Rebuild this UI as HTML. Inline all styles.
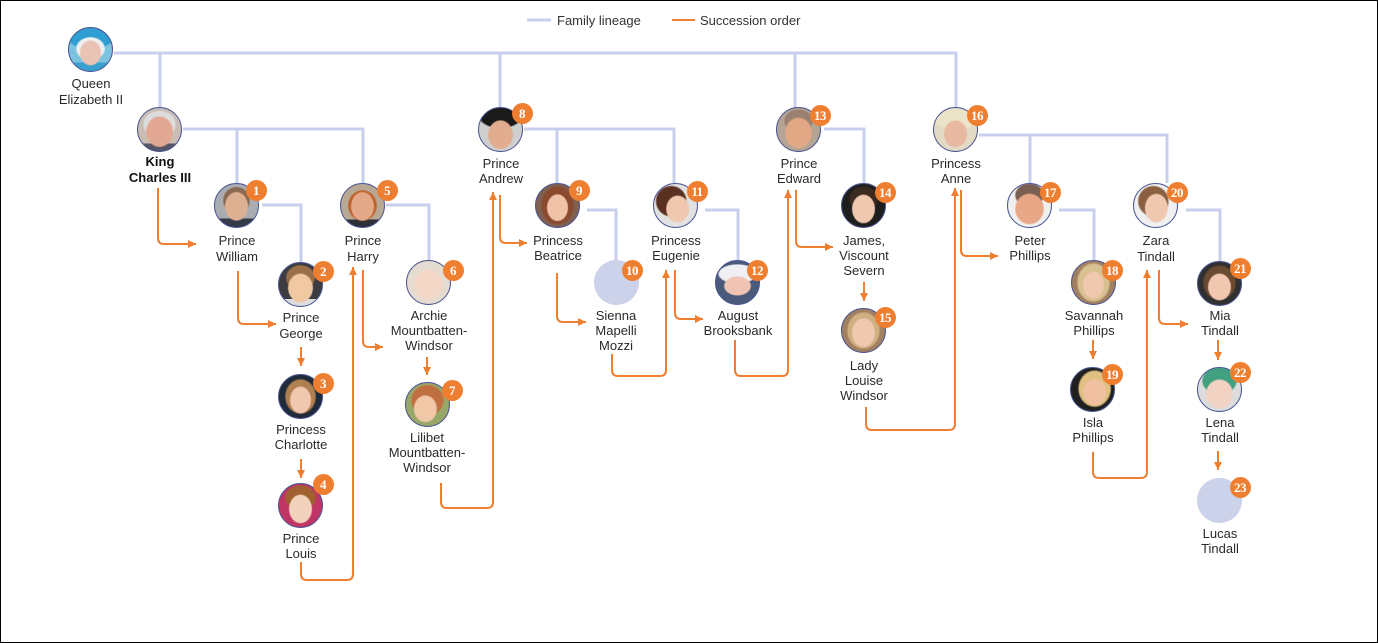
<!DOCTYPE html>
<html><head><meta charset="utf-8"><style>
html,body{margin:0;padding:0;background:#fff;}
#w{position:relative;width:1378px;height:643px;overflow:hidden;background:#fff;font-family:"Liberation Sans",Arial,sans-serif;}
#frame{position:absolute;left:0;top:0;width:1378px;height:643px;border:1px solid #000;box-sizing:border-box;}
svg{position:absolute;left:0;top:0;}
.f{position:absolute;width:45px;height:45px;border-radius:50%;border:1px solid #4b5593;box-sizing:border-box;}
.ph{position:absolute;width:45px;height:45px;border-radius:50%;background:#cbd2ea;}
.b{position:absolute;width:21px;height:21px;margin:-0.5px 0 0 -0.5px;border-radius:50%;background:#ef7f30;color:#fff;font:bold 13px "Liberation Serif",serif;line-height:21px;text-align:center;letter-spacing:-0.5px;}
text{font-family:"Liberation Sans",Arial,sans-serif;font-size:13px;fill:#2a2a2a;text-anchor:middle;}
</style></head><body><div id="w">
<svg width="1378" height="643" viewBox="0 0 1378 643">
<defs><marker id="a" markerUnits="userSpaceOnUse" markerWidth="9" markerHeight="9" refX="8" refY="4.5" orient="auto"><path d="M0,0.5 L8,4.5 L0,8.5 z" fill="#ef7f30"/></marker></defs>
<line x1="527" y1="20" x2="551" y2="20" stroke="#c8cfec" stroke-width="3"/>
<text x="557" y="25" style="text-anchor:start;fill:#333">Family lineage</text>
<line x1="672" y1="20" x2="695" y2="20" stroke="#ef7f30" stroke-width="2"/>
<text x="700" y="25" style="text-anchor:start;fill:#333">Succession order</text>
<g fill="none" stroke="#c8cfec" stroke-width="3">
<path d="M114,53 H956 V108"/>
<path d="M160,53 V107"/><path d="M500,53 V108"/><path d="M795,53 V108"/>
<path d="M183,129 H363 V183"/><path d="M237,129 V183"/>
<path d="M262,205 H301 V262"/>
<path d="M386,205 H429 V260"/>
<path d="M524,129 H674 V183"/><path d="M557,129 V183"/>
<path d="M587,210 H616 V260"/>
<path d="M705,210 H738 V260"/>
<path d="M824,129 H864 V183"/>
<path d="M979,135 H1167 V183"/><path d="M1030,135 V183"/>
<path d="M1059,210 H1094 V260"/>
<path d="M1186,210 H1220 V262"/>
</g>
<g fill="none" stroke="#ef7f30" stroke-width="2" marker-end="url(#a)">
<path d="M158,188 V238 Q158,244 164,244 H196"/>
<path d="M238,271 V318 Q238,324 244,324 H276"/>
<path d="M301,347 V366"/>
<path d="M301,459 V478"/>
<path d="M301,562 V574 Q301,580 307,580 H347 Q353,580 353,574 V267"/>
<path d="M363,270 V341 Q363,347 369,347 H383"/>
<path d="M427,357 V375"/>
<path d="M441,483 V502 Q441,508 447,508 H487 Q493,508 493,502 V192"/>
<path d="M500,195 V237 Q500,243 506,243 H527"/>
<path d="M557,273 V316 Q557,322 563,322 H586"/>
<path d="M612,354 V370 Q612,376 618,376 H660 Q666,376 666,370 V270"/>
<path d="M675,270 V313 Q675,319 681,319 H703"/>
<path d="M735,340 V370 Q735,376 741,376 H782 Q788,376 788,370 V190"/>
<path d="M796,190 V241 Q796,247 802,247 H833"/>
<path d="M864,282 V301"/>
<path d="M866,407 V424 Q866,430 872,430 H949 Q955,430 955,424 V188"/>
<path d="M961,190 V250 Q961,256 967,256 H998"/>
<path d="M1093,340 V359"/>
<path d="M1093,452 V472 Q1093,478 1099,478 H1141 Q1147,478 1147,472 V270"/>
<path d="M1159,270 V318 Q1159,324 1165,324 H1188"/>
<path d="M1218,340 V360"/>
<path d="M1218,451 V470"/>
</g>
<text x="91" y="88">Queen</text><text x="91" y="104">Elizabeth II</text>
<text x="160" y="166" style="font-weight:bold;fill:#111">King</text><text x="160" y="182" style="font-weight:bold;fill:#111">Charles III</text>
<text x="237" y="245">Prince</text><text x="237" y="261">William</text>
<text x="363" y="245">Prince</text><text x="363" y="261">Harry</text>
<text x="301" y="322">Prince</text><text x="301" y="338">George</text>
<text x="301" y="434">Princess</text><text x="301" y="449">Charlotte</text>
<text x="301" y="543">Prince</text><text x="301" y="558">Louis</text>
<text x="429" y="320">Archie</text><text x="429" y="335">Mountbatten-</text><text x="429" y="350">Windsor</text>
<text x="427" y="442">Lilibet</text><text x="427" y="457">Mountbatten-</text><text x="427" y="472">Windsor</text>
<text x="501" y="168">Prince</text><text x="501" y="183">Andrew</text>
<text x="558" y="245">Princess</text><text x="558" y="260">Beatrice</text>
<text x="616" y="320">Sienna</text><text x="616" y="335">Mapelli</text><text x="616" y="350">Mozzi</text>
<text x="676" y="245">Princess</text><text x="676" y="260">Eugenie</text>
<text x="738" y="320">August</text><text x="738" y="335">Brooksbank</text>
<text x="799" y="168">Prince</text><text x="799" y="183">Edward</text>
<text x="864" y="245">James,</text><text x="864" y="260">Viscount</text><text x="864" y="275">Severn</text>
<text x="864" y="370">Lady</text><text x="864" y="385">Louise</text><text x="864" y="400">Windsor</text>
<text x="956" y="168">Princess</text><text x="956" y="183">Anne</text>
<text x="1030" y="245">Peter</text><text x="1030" y="260">Phillips</text>
<text x="1094" y="320">Savannah</text><text x="1094" y="335">Phillips</text>
<text x="1093" y="427">Isla</text><text x="1093" y="442">Phillips</text>
<text x="1156" y="245">Zara</text><text x="1156" y="261">Tindall</text>
<text x="1220" y="320">Mia</text><text x="1220" y="335">Tindall</text>
<text x="1220" y="427">Lena</text><text x="1220" y="442">Tindall</text>
<text x="1220" y="538">Lucas</text><text x="1220" y="553">Tindall</text>
</svg>
<div class="f" style="left:68px;top:27px;background:radial-gradient(11px 13px at 50% 58%,#e9c3b3 0,#e9c3b3 90%,transparent 100%),radial-gradient(15px 12px at 50% 48%,#eee 0,#eee 90%,transparent 100%),radial-gradient(24px 12px at 50% 22%,#2f9fd3 0,#2f9fd3 90%,transparent 100%),linear-gradient(#7cc3e0 0,#7cc3e0 80%,#3aa0d0 80%)"></div>
<div class="f" style="left:137px;top:107px;background:radial-gradient(14px 16px at 50% 55%,#e2a893 0,#e2a893 90%,transparent 100%),radial-gradient(17px 14px at 50% 38%,#ddd 0,#ddd 90%,transparent 100%),linear-gradient(#c9bdb6 0,#c9bdb6 82%,#556 82%)"></div>
<div class="f" style="left:214px;top:183px;background:radial-gradient(12px 15px at 50% 52%,#ddb092 0,#ddb092 90%,transparent 100%),radial-gradient(14px 14px at 50% 38%,#8a6a50 0,#8a6a50 90%,transparent 100%),linear-gradient(#a9adb2 0,#a9adb2 80%,#333a48 80%)"></div>
<div class="f" style="left:340px;top:183px;background:radial-gradient(12px 15px at 50% 52%,#e2a888 0,#e2a888 90%,transparent 100%),radial-gradient(15px 16px at 50% 50%,#c0602a 0,#c0602a 90%,transparent 100%),linear-gradient(#b8a894 0,#b8a894 82%,#2f2f38 82%)"></div>
<div class="f" style="left:278px;top:262px;background:radial-gradient(13px 15px at 50% 58%,#f0c8a2 0,#f0c8a2 90%,transparent 100%),radial-gradient(15px 13px at 50% 34%,#9a7048 0,#9a7048 90%,transparent 100%),linear-gradient(#3c3c40 0,#3c3c40 84%,#ddd 84%)"></div>
<div class="f" style="left:278px;top:374px;background:radial-gradient(11px 14px at 50% 58%,#f0c8b0 0,#f0c8b0 90%,transparent 100%),radial-gradient(16px 18px at 50% 50%,#b08050 0,#b08050 90%,transparent 100%),#1f2a3a"></div>
<div class="f" style="left:278px;top:483px;background:radial-gradient(12px 15px at 50% 58%,#f2d2bc 0,#f2d2bc 90%,transparent 100%),radial-gradient(16px 13px at 50% 32%,#a06030 0,#a06030 90%,transparent 100%),#c03565"></div>
<div class="f" style="left:406px;top:260px;background:radial-gradient(15px 16px at 50% 55%,#f2d6c6 0,#f2d6c6 90%,transparent 100%),#e4dcd0"></div>
<div class="f" style="left:405px;top:382px;background:radial-gradient(12px 14px at 45% 60%,#f0c8a8 0,#f0c8a8 90%,transparent 100%),radial-gradient(17px 16px at 50% 40%,#c07040 0,#c07040 90%,transparent 100%),#98a868"></div>
<div class="f" style="left:478px;top:107px;background:radial-gradient(13px 15px at 50% 62%,#e2ac8e 0,#e2ac8e 90%,transparent 100%),radial-gradient(22px 12px at 50% 20%,#1a1a1a 0,#1a1a1a 90%,transparent 100%),#cfcfcf"></div>
<div class="f" style="left:535px;top:183px;background:radial-gradient(11px 14px at 50% 55%,#f0c2a8 0,#f0c2a8 90%,transparent 100%),radial-gradient(17px 20px at 50% 50%,#8a4a30 0,#8a4a30 90%,transparent 100%),#806050"></div>
<div class="ph" style="left:594px;top:260px"></div>
<div class="f" style="left:653px;top:183px;background:radial-gradient(12px 14px at 55% 58%,#f0c8b0 0,#f0c8b0 90%,transparent 100%),radial-gradient(16px 16px at 40% 40%,#5a3020 0,#5a3020 90%,transparent 100%),#e2e2e2"></div>
<div class="f" style="left:715px;top:260px;background:radial-gradient(14px 10px at 50% 58%,#f0c4b4 0,#f0c4b4 90%,transparent 100%),radial-gradient(20px 10px at 50% 30%,#f0f0f4 0,#f0f0f4 90%,transparent 100%),#4a5a7a"></div>
<div class="f" style="left:776px;top:107px;background:radial-gradient(14px 16px at 50% 58%,#e2a886 0,#e2a886 90%,transparent 100%),radial-gradient(15px 12px at 50% 30%,#9a8070 0,#9a8070 90%,transparent 100%),#b4a494"></div>
<div class="f" style="left:841px;top:183px;background:radial-gradient(12px 15px at 50% 58%,#f0c8b0 0,#f0c8b0 90%,transparent 100%),radial-gradient(15px 13px at 50% 35%,#3a2a20 0,#3a2a20 90%,transparent 100%),#1e1e1e"></div>
<div class="f" style="left:841px;top:308px;background:radial-gradient(12px 15px at 50% 55%,#f0c8b0 0,#f0c8b0 90%,transparent 100%),radial-gradient(17px 19px at 50% 50%,#d0b080 0,#d0b080 90%,transparent 100%),#a08060"></div>
<div class="f" style="left:933px;top:107px;background:radial-gradient(12px 14px at 50% 60%,#e8b8a0 0,#e8b8a0 90%,transparent 100%),radial-gradient(22px 12px at 50% 24%,#ece4c8 0,#ece4c8 90%,transparent 100%),#e2dac4"></div>
<div class="f" style="left:1007px;top:183px;background:radial-gradient(15px 16px at 50% 58%,#e8a888 0,#e8a888 90%,transparent 100%),radial-gradient(15px 12px at 50% 26%,#7a6050 0,#7a6050 90%,transparent 100%),#f0f0f0"></div>
<div class="f" style="left:1071px;top:260px;background:radial-gradient(11px 14px at 50% 56%,#f0c8b0 0,#f0c8b0 90%,transparent 100%),radial-gradient(17px 20px at 50% 50%,#d8c090 0,#d8c090 90%,transparent 100%),#a08060"></div>
<div class="f" style="left:1070px;top:367px;background:radial-gradient(12px 14px at 55% 56%,#f0c0a0 0,#f0c0a0 90%,transparent 100%),radial-gradient(17px 19px at 55% 48%,#e0c080 0,#e0c080 90%,transparent 100%),#202020"></div>
<div class="f" style="left:1133px;top:183px;background:radial-gradient(12px 15px at 52% 56%,#f0c8b0 0,#f0c8b0 90%,transparent 100%),radial-gradient(16px 16px at 45% 40%,#8a6040 0,#8a6040 90%,transparent 100%),#f0f0f0"></div>
<div class="f" style="left:1197px;top:261px;background:radial-gradient(12px 14px at 50% 58%,#f0c8b0 0,#f0c8b0 90%,transparent 100%),radial-gradient(17px 18px at 50% 48%,#6a4a30 0,#6a4a30 90%,transparent 100%),#303030"></div>
<div class="f" style="left:1197px;top:367px;background:radial-gradient(14px 15px at 50% 60%,#f2d2c2 0,#f2d2c2 90%,transparent 100%),radial-gradient(18px 14px at 50% 30%,#40a080 0,#40a080 90%,transparent 100%),#dcdcdc"></div>
<div class="ph" style="left:1197px;top:478px"></div>
<div class="b" style="left:246px;top:180px">1</div>
<div class="b" style="left:313px;top:261px">2</div>
<div class="b" style="left:313px;top:373px">3</div>
<div class="b" style="left:313px;top:474px">4</div>
<div class="b" style="left:377px;top:180px">5</div>
<div class="b" style="left:443px;top:260px">6</div>
<div class="b" style="left:442px;top:380px">7</div>
<div class="b" style="left:512px;top:103px">8</div>
<div class="b" style="left:569px;top:180px">9</div>
<div class="b" style="left:622px;top:260px">10</div>
<div class="b" style="left:687px;top:181px">11</div>
<div class="b" style="left:747px;top:260px">12</div>
<div class="b" style="left:810px;top:105px">13</div>
<div class="b" style="left:875px;top:182px">14</div>
<div class="b" style="left:875px;top:307px">15</div>
<div class="b" style="left:967px;top:105px">16</div>
<div class="b" style="left:1040px;top:182px">17</div>
<div class="b" style="left:1102px;top:260px">18</div>
<div class="b" style="left:1102px;top:364px">19</div>
<div class="b" style="left:1167px;top:182px">20</div>
<div class="b" style="left:1230px;top:258px">21</div>
<div class="b" style="left:1230px;top:362px">22</div>
<div class="b" style="left:1230px;top:477px">23</div>
<div id="frame"></div>
</div></body></html>
